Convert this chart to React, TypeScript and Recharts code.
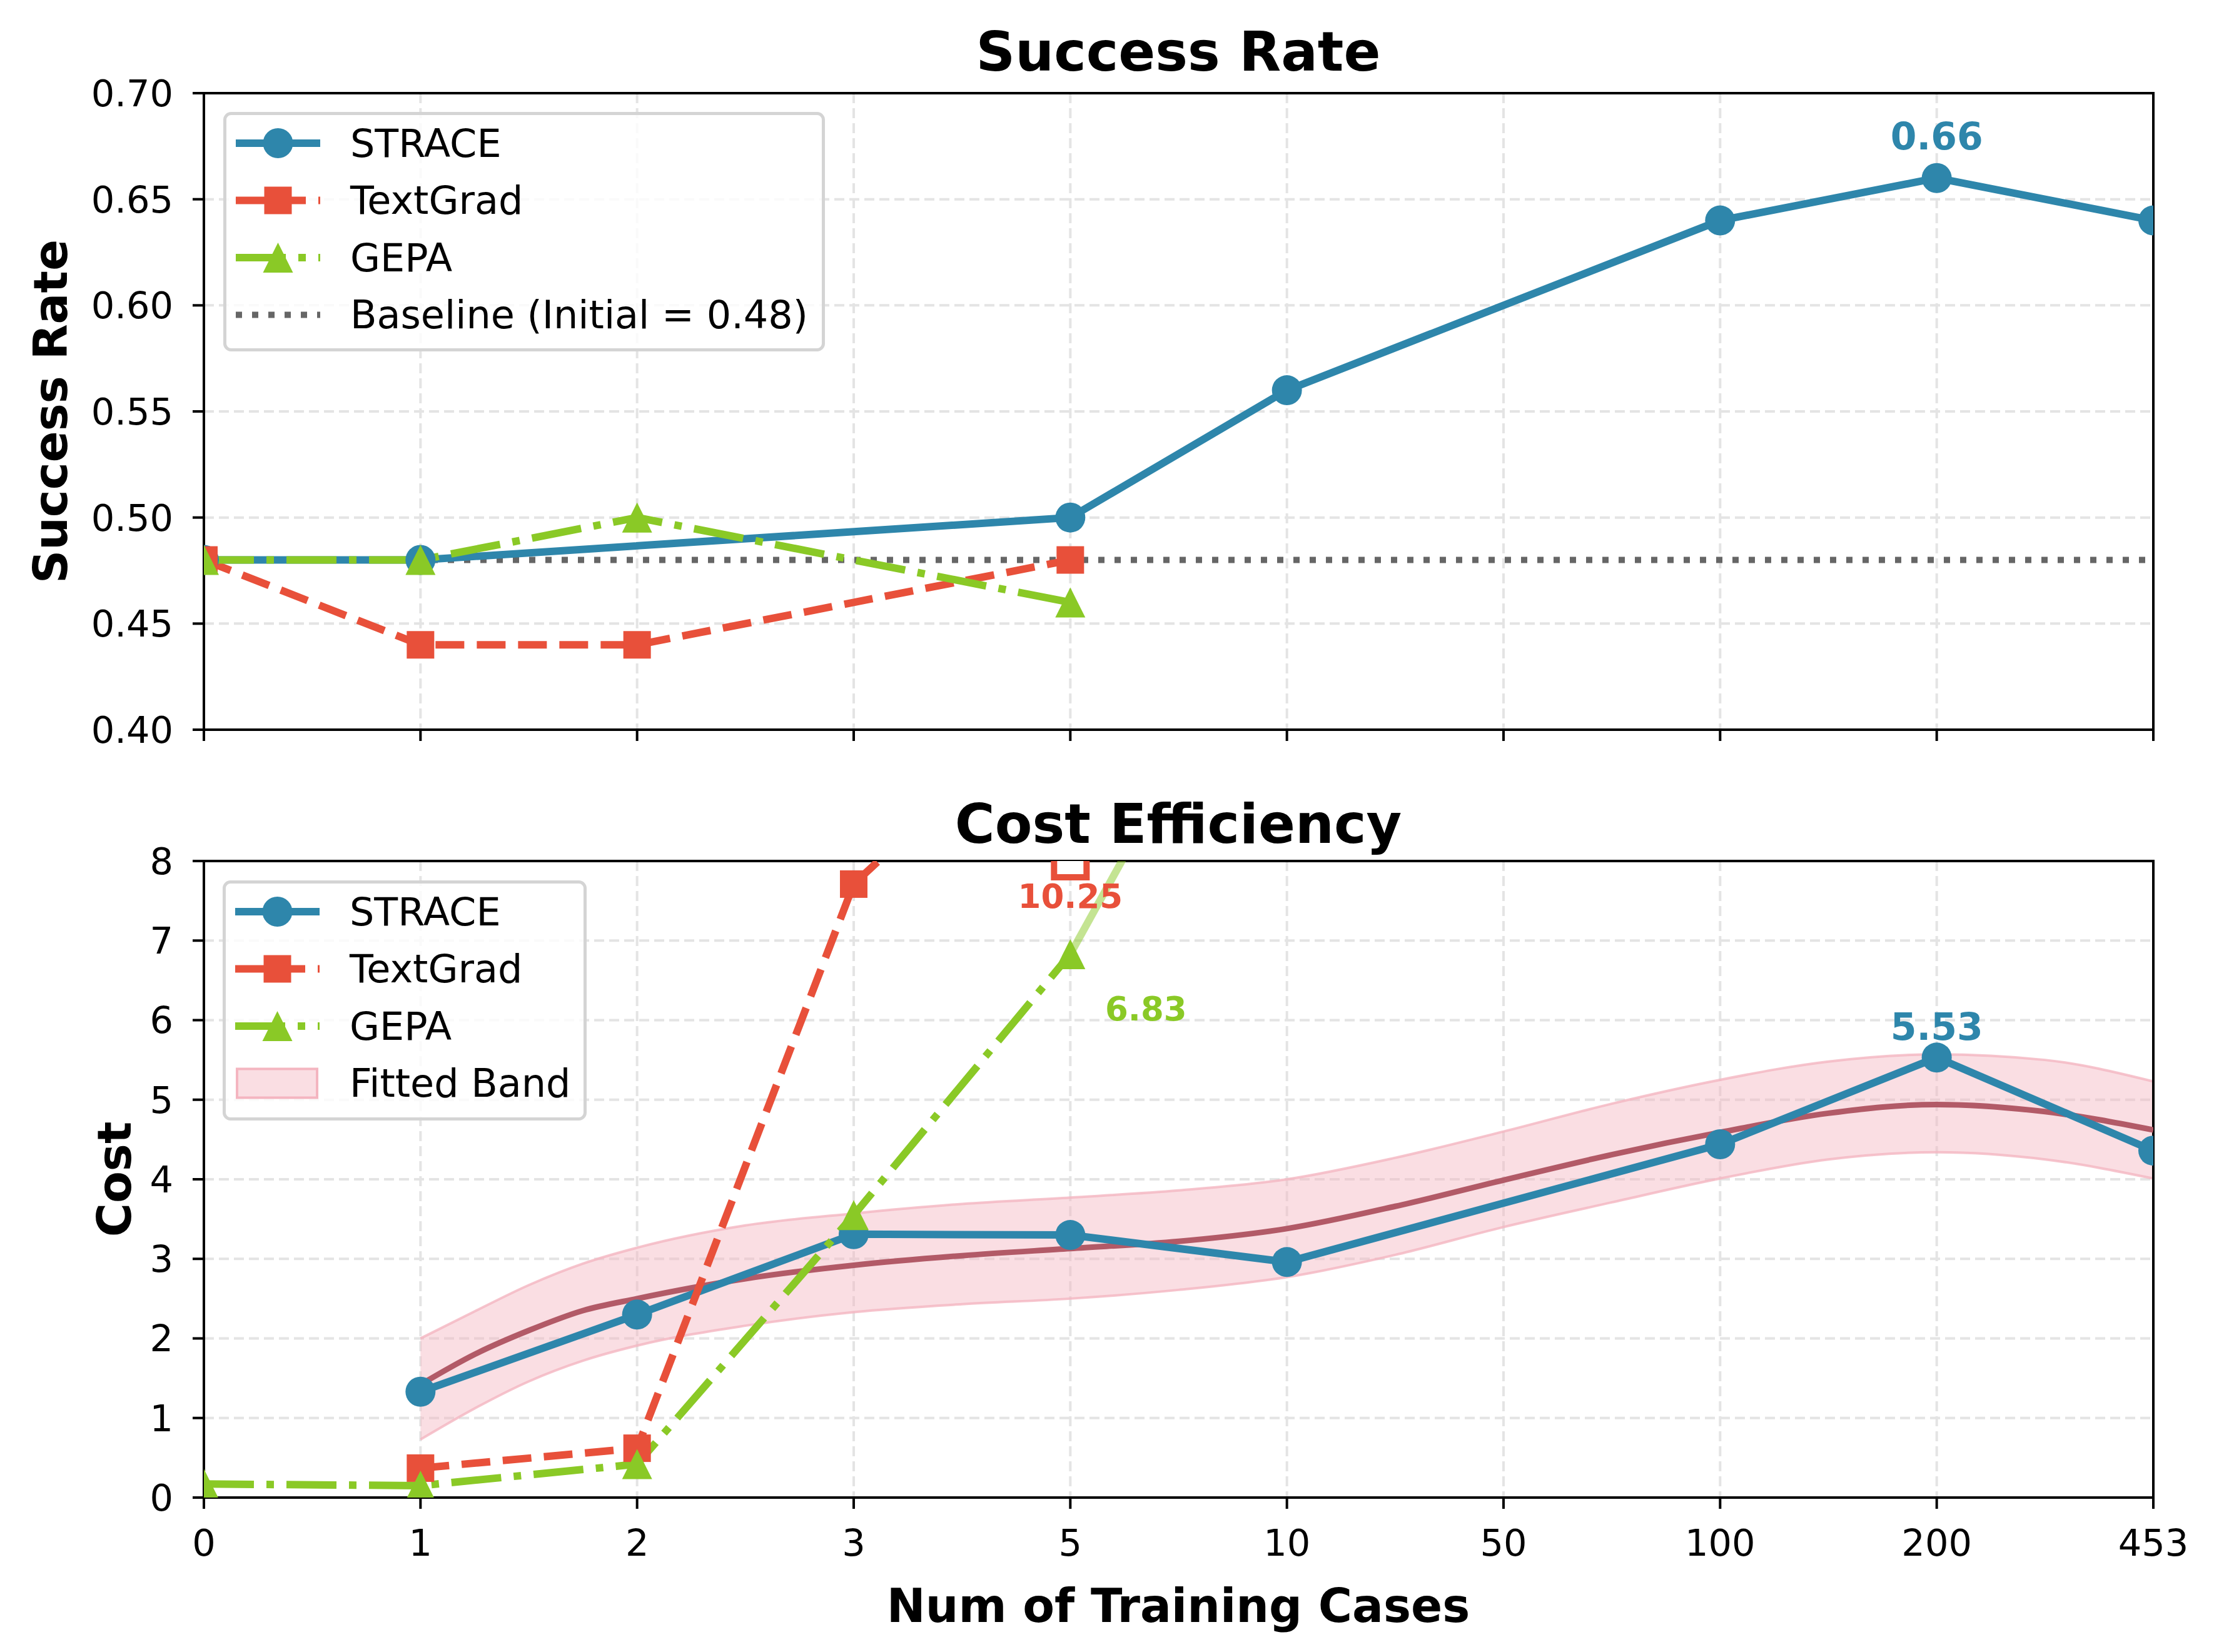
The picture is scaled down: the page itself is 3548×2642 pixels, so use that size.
import React from 'react';
import {
  ComposedChart,
  Line,
  Area,
  XAxis,
  YAxis,
  CartesianGrid,
  Legend,
  ReferenceArea,
} from 'recharts';

// x positions are category indexes; labels come from this list
const categories = ['0', '1', '2', '3', '5', '10', '50', '100', '200', '453'];

// Success rate (top panel)
const straceSuccess = [0.48, 0.48, null, null, 0.5, 0.56, null, 0.64, 0.66, 0.64];
const textgradSuccess = [0.48, 0.44, 0.44, null, 0.48, null, null, null, null, null];
const gepaSuccess = [0.48, 0.48, 0.5, null, 0.46, null, null, null, null, null];
const baselineSuccess = 0.48;
const successTicks = [0.4, 0.45, 0.5, 0.55, 0.6, 0.65, 0.7];

// Cost (bottom panel)
const straceCost = [null, 1.33, 2.3, 3.31, 3.3, 2.96, null, 4.44, 5.53, 4.36];
const textgradCost = [null, 0.37, 0.62, 7.71, 10.25, null, null, null, null, null];
const gepaCost = [0.17, 0.15, 0.42, 3.55, 6.83, null, null, null, null, null];
const gepaTrend = [null, null, null, null, 6.83, 11.75, null, null, null, null];
const costTicks = [0, 1, 2, 3, 4, 5, 6, 7, 8];
const costMax = 8;

// Fitted band
const fitPos = [1, 1.25, 1.5, 1.75, 2, 2.5, 3, 3.5, 4, 4.5, 5, 5.5, 6, 6.5, 7, 7.5, 8, 8.5, 9];
const fitMid = [1.42, 1.8, 2.1, 2.35, 2.5, 2.75, 2.92, 3.04, 3.13, 3.22, 3.38, 3.66, 3.99, 4.31, 4.59, 4.83, 4.94, 4.85, 4.62];
const fitLow = [0.73, 1.12, 1.46, 1.72, 1.91, 2.16, 2.33, 2.43, 2.5, 2.61, 2.77, 3.05, 3.4, 3.71, 4.01, 4.25, 4.34, 4.25, 4.01];
const fitHigh = [2.0, 2.34, 2.67, 2.94, 3.14, 3.42, 3.57, 3.69, 3.77, 3.86, 4.0, 4.27, 4.6, 4.95, 5.25, 5.48, 5.57, 5.5, 5.23];

const BLUE = '#2E86AB';
const RED = '#E8503A';
const GREEN = '#8AC926';
const FIT = '#B25A67';
const BAND = '#F4B5C0';
const FONT = 'DejaVu Sans';

const W = 3548;
const xTicks = categories.map((_, i) => i);

const toPoints = (vals: (number | null)[]) =>
  vals.map((v, i) => (v == null ? null : { x: i, y: v })).filter(Boolean) as { x: number; y: number }[];

const circleDot = (color: string) => (p: any) =>
  p.cx == null ? <g key={p.key} /> : <circle key={p.key} cx={p.cx} cy={p.cy} r={24} fill={color} />;

const squareDot = (color: string) => (p: any) =>
  p.cx == null ? <g key={p.key} /> : <rect key={p.key} x={p.cx - 22} y={p.cy - 22} width={44} height={44} fill={color} />;

const triangleDot = (color: string) => (p: any) =>
  p.cx == null ? (
    <g key={p.key} />
  ) : (
    <polygon key={p.key} points={`${p.cx},${p.cy - 24} ${p.cx - 24},${p.cy + 24} ${p.cx + 24},${p.cy + 24}`} fill={color} />
  );

// text annotation next to a point
const noteDot = (text: string, color: string, dx: number, dy: number, size: number) => (p: any) =>
  p.cx == null ? (
    <g key={p.key} />
  ) : (
    <text key={p.key} x={p.cx + dx} y={p.cy + dy} textAnchor="middle" fill={color} fontFamily={FONT} fontWeight="bold" fontSize={size}>
      {text}
    </text>
  );

// hollow marker for a value above the axis + its value
const capDot = (text: string) => (p: any) =>
  p.cx == null ? (
    <g key={p.key} />
  ) : (
    <g key={p.key}>
      <rect x={p.cx - 26} y={p.cy - 26} width={52} height={52} fill="#fff" stroke={RED} strokeWidth={10} />
      <text x={p.cx} y={p.cy + 75} textAnchor="middle" fill={RED} fontFamily={FONT} fontWeight="bold" fontSize={53}>
        {text}
      </text>
    </g>
  );

type LegendItem = { label: string; kind: string; color: string; dash?: string };

function LegendBox({ items, width, height }: { items: LegendItem[]; width: number; height: number }) {
  return (
    <svg width={width} height={height} style={{ display: 'block' }}>
      <rect x={2.5} y={2.5} width={width - 5} height={height - 5} rx={10} fill="#fff" fillOpacity={0.8} stroke="#d4d4d4" strokeWidth={5} />
      {items.map((it, i) => {
        const cy = 50 + i * 91.5;
        const mx = 87.5;
        return (
          <g key={it.label}>
            {it.kind === 'patch' ? (
              <rect x={23} y={cy - 23} width={128} height={46} fill={BAND} fillOpacity={0.45} stroke={BAND} strokeWidth={4} />
            ) : (
              <line x1={20} x2={155} y1={cy} y2={cy} stroke={it.color} strokeWidth={it.kind === 'dotted' ? 10 : 12} strokeDasharray={it.dash} />
            )}
            {it.kind === 'circle' && <circle cx={mx} cy={cy} r={24} fill={it.color} />}
            {it.kind === 'square' && <rect x={mx - 22} y={cy - 22} width={44} height={44} fill={it.color} />}
            {it.kind === 'triangle' && (
              <polygon points={`${mx},${cy - 24} ${mx - 24},${cy + 24} ${mx + 24},${cy + 24}`} fill={it.color} />
            )}
            <text x={203} y={cy} dominantBaseline="central" fontFamily={FONT} fontSize={62} fill="#000">
              {it.label}
            </text>
          </g>
        );
      })}
    </svg>
  );
}

const topLegend: LegendItem[] = [
  { label: 'STRACE', kind: 'circle', color: BLUE },
  { label: 'TextGrad', kind: 'square', color: RED, dash: '46 20' },
  { label: 'GEPA', kind: 'triangle', color: GREEN, dash: '80 20 12 20' },
  { label: 'Baseline (Initial = 0.48)', kind: 'dotted', color: '#666', dash: '10 16' },
];

const bottomLegend: LegendItem[] = [
  { label: 'STRACE', kind: 'circle', color: BLUE },
  { label: 'TextGrad', kind: 'square', color: RED, dash: '46 20' },
  { label: 'GEPA', kind: 'triangle', color: GREEN, dash: '80 20 12 20' },
  { label: 'Fitted Band', kind: 'patch', color: BAND },
];

const tickStyle = { fill: '#000', fontSize: 59, fontFamily: FONT };
const axisStroke = { stroke: '#000', strokeWidth: 4 };

function SuccessPanel() {
  const idx = straceSuccess.length - 2;
  return (
    <ComposedChart width={W} height={1300} margin={{ top: 149, right: 105, bottom: 73, left: 26 }}>
      <CartesianGrid stroke="#e4e4e4" strokeWidth={4} strokeDasharray="16 8" />
      <XAxis
        dataKey="x"
        type="number"
        domain={[0, 9]}
        ticks={xTicks}
        allowDataOverflow
        height={60}
        tickFormatter={() => ''}
        tick={tickStyle}
        tickSize={18}
        tickLine={axisStroke}
        axisLine={axisStroke}
      />
      <YAxis
        dataKey="y"
        type="number"
        domain={[0.4, 0.7]}
        ticks={successTicks}
        allowDataOverflow
        width={300}
        tickFormatter={(v: number) => v.toFixed(2)}
        tick={tickStyle}
        tickSize={18}
        tickMargin={31}
        tickLine={axisStroke}
        axisLine={axisStroke}
      />
      <ReferenceArea x1={0} x2={9} y1={0.4} y2={0.7} fill="none" stroke="#000" strokeWidth={4} ifOverflow="visible" />
      <Line
        data={[{ x: 0, y: baselineSuccess }, { x: 9, y: baselineSuccess }]}
        dataKey="y"
        stroke="#666"
        strokeWidth={10}
        strokeDasharray="10 16"
        dot={false}
        isAnimationActive={false}
      />
      <Line data={toPoints(straceSuccess)} dataKey="y" stroke={BLUE} strokeWidth={12} dot={circleDot(BLUE)} isAnimationActive={false} />
      <Line data={toPoints(textgradSuccess)} dataKey="y" stroke={RED} strokeWidth={12} strokeDasharray="46 20" dot={squareDot(RED)} isAnimationActive={false} />
      <Line data={toPoints(gepaSuccess)} dataKey="y" stroke={GREEN} strokeWidth={12} strokeDasharray="80 20 12 20" dot={triangleDot(GREEN)} isAnimationActive={false} />
      <Line
        data={[{ x: idx, y: straceSuccess[idx] }]}
        dataKey="y"
        stroke="none"
        dot={noteDot((straceSuccess[idx] as number).toFixed(2), BLUE, 0, -46, 60)}
        isAnimationActive={false}
      />
      <Legend
        layout="vertical"
        align="center"
        verticalAlign="middle"
        wrapperStyle={{ left: 357, top: 179, width: 962, height: 383 }}
        content={() => <LegendBox items={topLegend} width={962} height={383} />}
      />
    </ComposedChart>
  );
}

function CostPanel() {
  const bandData = fitPos.map((x, i) => ({ x, y: [fitLow[i], fitHigh[i]] }));
  const midData = fitPos.map((x, i) => ({ x, y: fitMid[i] }));
  return (
    <ComposedChart width={W} height={1342} margin={{ top: 77, right: 105, bottom: 47, left: 26 }}>
      <CartesianGrid stroke="#e4e4e4" strokeWidth={4} strokeDasharray="16 8" />
      <XAxis
        dataKey="x"
        type="number"
        domain={[0, 9]}
        ticks={xTicks}
        allowDataOverflow
        height={200}
        tickFormatter={(v: number) => categories[v]}
        tick={tickStyle}
        tickSize={18}
        tickMargin={33}
        tickLine={axisStroke}
        axisLine={axisStroke}
      />
      <YAxis
        dataKey="y"
        type="number"
        domain={[0, costMax]}
        ticks={costTicks}
        allowDataOverflow
        width={300}
        tick={tickStyle}
        tickSize={18}
        tickMargin={31}
        tickLine={axisStroke}
        axisLine={axisStroke}
      />
      <Area
        data={bandData}
        dataKey="y"
        type="monotone"
        fill={BAND}
        fillOpacity={0.45}
        stroke={BAND}
        strokeOpacity={0.8}
        strokeWidth={4}
        isAnimationActive={false}
      />
      <Line data={midData} dataKey="y" type="monotone" stroke={FIT} strokeWidth={9} dot={false} isAnimationActive={false} />
      <Line data={toPoints(straceCost)} dataKey="y" stroke={BLUE} strokeWidth={12} dot={circleDot(BLUE)} isAnimationActive={false} />
      <Line data={toPoints(textgradCost)} dataKey="y" stroke={RED} strokeWidth={12} strokeDasharray="46 20" dot={squareDot(RED)} isAnimationActive={false} />
      <Line data={toPoints(gepaTrend)} dataKey="y" stroke={GREEN} strokeOpacity={0.5} strokeWidth={12} dot={false} isAnimationActive={false} />
      <Line data={toPoints(gepaCost)} dataKey="y" stroke={GREEN} strokeWidth={12} strokeDasharray="80 20 12 20" dot={triangleDot(GREEN)} isAnimationActive={false} />
      <Line
        data={[{ x: 4, y: costMax }]}
        dataKey="y"
        stroke="none"
        dot={capDot((textgradCost[4] as number).toFixed(2))}
        isAnimationActive={false}
      />
      <Line
        data={[{ x: 4, y: gepaCost[4] }]}
        dataKey="y"
        stroke="none"
        dot={noteDot((gepaCost[4] as number).toFixed(2), GREEN, 121, 106, 53)}
        isAnimationActive={false}
      />
      <Line
        data={[{ x: 8, y: straceCost[8] }]}
        dataKey="y"
        stroke="none"
        dot={noteDot((straceCost[8] as number).toFixed(2), BLUE, 0, -28, 60)}
        isAnimationActive={false}
      />
      <ReferenceArea x1={0} x2={9} y1={0} y2={costMax} fill="none" stroke="#000" strokeWidth={4} ifOverflow="visible" />
      <Legend
        layout="vertical"
        align="center"
        verticalAlign="middle"
        wrapperStyle={{ left: 356, top: 108, width: 582, height: 384 }}
        content={() => <LegendBox items={bottomLegend} width={582} height={384} />}
      />
    </ComposedChart>
  );
}

export default function App() {
  return (
    <div style={{ position: 'absolute', left: 0, top: 0, width: W, height: 2642, background: '#fff', overflow: 'hidden' }}>
      <div style={{ position: 'absolute', left: 0, top: 0 }}>
        <SuccessPanel />
      </div>
      <div style={{ position: 'absolute', left: 0, top: 1300 }}>
        <CostPanel />
      </div>
      <svg width={W} height={2642} style={{ position: 'absolute', left: 0, top: 0, pointerEvents: 'none' }}>
        <g fontFamily={FONT} fontWeight="bold" fill="#000">
          <text x={1884} y={113} textAnchor="middle" fontSize={87}>Success Rate</text>
          <text x={1884} y={1348} textAnchor="middle" fontSize={87}>Cost Efficiency</text>
          <text x={1884} y={2594} textAnchor="middle" fontSize={74}>Num of Training Cases</text>
          <text x={107} y={658} textAnchor="middle" fontSize={74} transform="rotate(-90 107 658)">Success Rate</text>
          <text x={209} y={1886} textAnchor="middle" fontSize={74} transform="rotate(-90 209 1886)">Cost</text>
        </g>
      </svg>
    </div>
  );
}
